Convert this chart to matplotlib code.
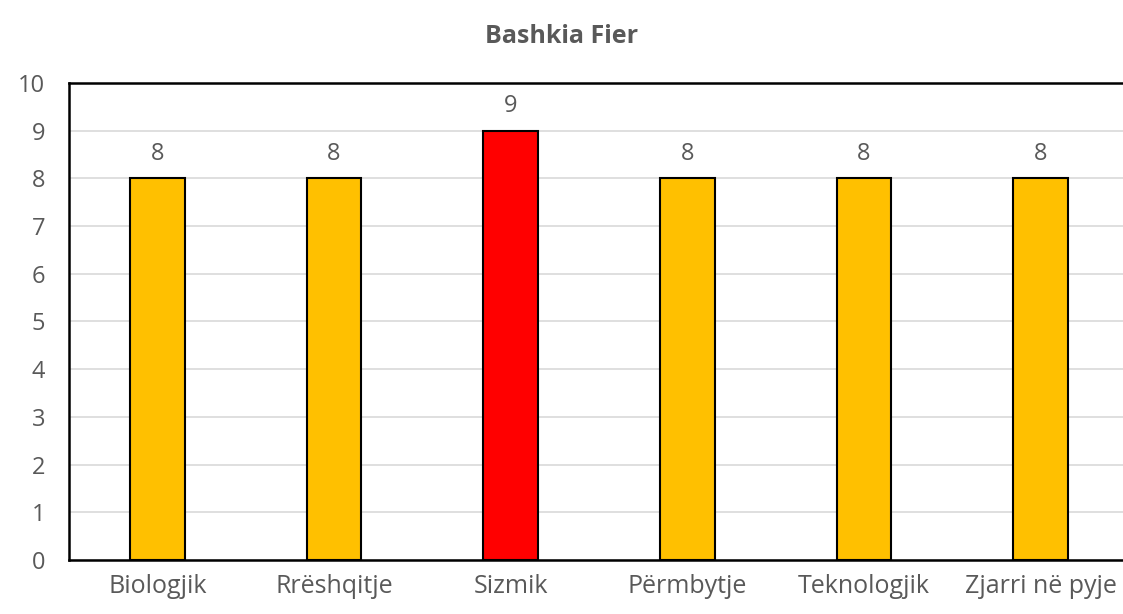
import matplotlib

matplotlib.use('Agg')
import matplotlib.pyplot as plt

categories = ["Biologjik", "Rrëshqitje", "Sizmik", "Përmbytje", "Teknologjik", "Zjarri në pyje"]
values = [8, 8, 9, 8, 8, 8]
bar_colors = ["#FFC000", "#FFC000", "#FF0000", "#FFC000", "#FFC000", "#FFC000"]
yticks = list(range(0, 11))

plt.rcParams['font.family'] = ['Open Sans', 'DejaVu Sans']
text_grey = "#595959"

fig = plt.figure(figsize=(11.23, 6.14), dpi=100)
ax = fig.add_axes([0.0614, 0.088, 0.944, 0.777])

x = list(range(len(categories)))
bars = ax.bar(x, values, width=0.31, color=bar_colors, edgecolor="black", linewidth=1.5, zorder=3)

for xi, v in zip(x, values):
    ax.annotate(str(v), (xi, v), xytext=(0, 9), textcoords="offset points",
                ha="center", va="bottom", fontsize=17, color=text_grey)

ax.set_xlim(-0.5, len(categories) - 0.5)
ax.set_ylim(0, 10)
ax.set_yticks(yticks)
ax.set_xticks(x)
ax.set_xticklabels(categories, fontsize=18, color=text_grey)
ax.tick_params(axis='y', labelsize=17, labelcolor=text_grey, length=0, pad=17)
ax.tick_params(axis='x', length=0, pad=10)
ax.yaxis.grid(True, color="#D9D9D9", linewidth=1.2, zorder=0)
ax.set_axisbelow(True)

for side in ['left', 'top', 'bottom']:
    ax.spines[side].set_color("black")
    ax.spines[side].set_linewidth(1.8)
ax.spines['right'].set_visible(False)

fig.text(0.5, 0.94, "Bashkia Fier", ha="center", va="center", fontsize=18,
         fontweight="bold", color=text_grey)

fig.savefig("out.png", dpi=100)
